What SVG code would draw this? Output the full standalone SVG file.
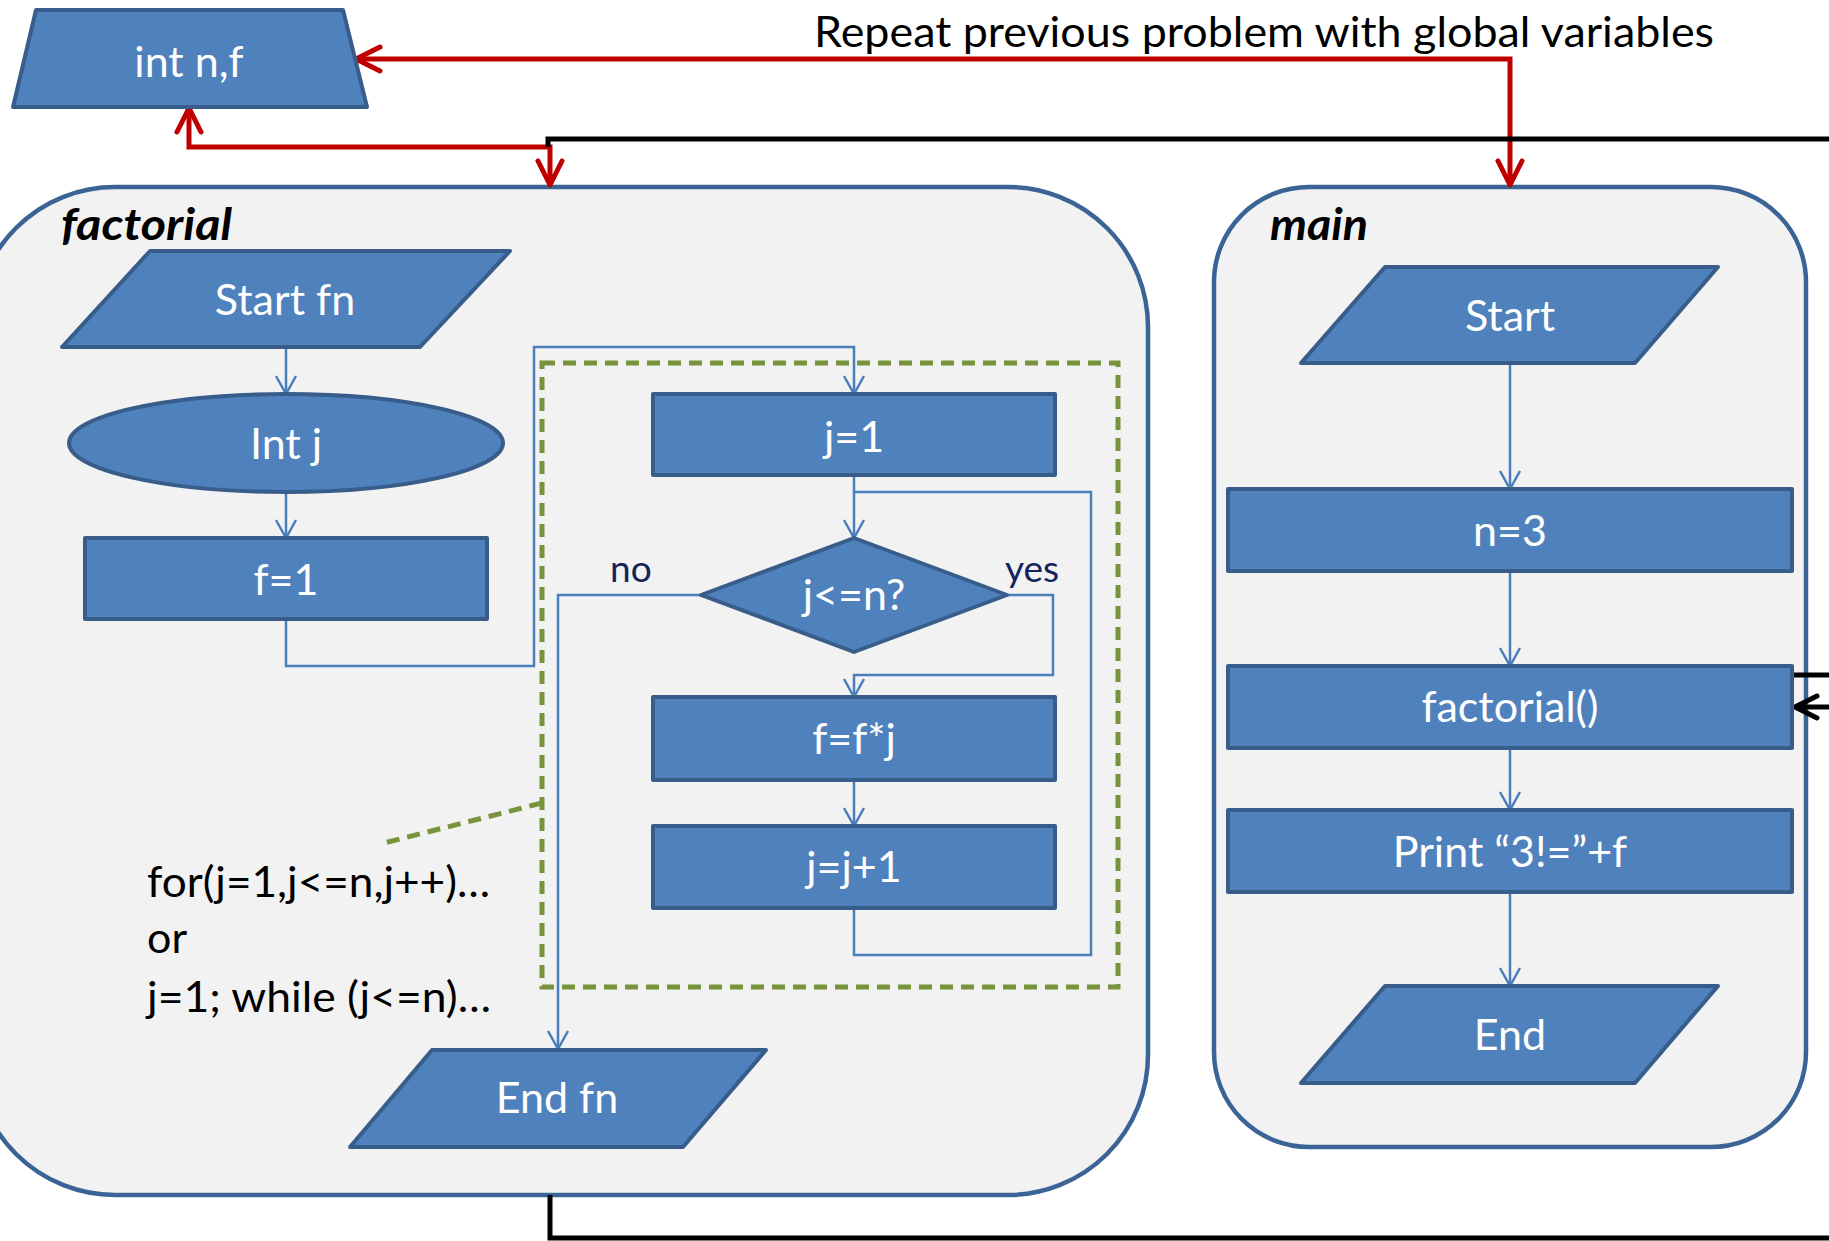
<svg xmlns="http://www.w3.org/2000/svg" width="1829" height="1241" viewBox="0 0 1829 1241">
<defs>
<style>
.cont{fill:#f2f2f2;stroke:#3b6496;stroke-width:4.5}
.node{fill:#4f81bd;stroke:#385d8a;stroke-width:4;stroke-linejoin:round}
.nt{font-family:Lato,"Open Sans","Liberation Sans",sans-serif;font-size:43px;fill:#ffffff;text-anchor:middle}
.lbl{font-family:Lato,"Open Sans","Liberation Sans",sans-serif;font-size:43px;fill:#000000}
.title{font-family:Lato,"Open Sans","Liberation Sans",sans-serif;font-size:43px;font-weight:bold;font-style:italic;fill:#000000}
.yn{font-family:Lato,"Open Sans","Liberation Sans",sans-serif;font-size:37px;fill:#14235a}
.bl{fill:none;stroke:#4a7ebb;stroke-width:2.5;marker-end:url(#ba)}
.bln{fill:none;stroke:#4a7ebb;stroke-width:2.5}
.red{fill:none;stroke:#c00000;stroke-width:5;marker-start:url(#ra);marker-end:url(#ra)}
.blk{fill:none;stroke:#000000;stroke-width:5}
.grn{fill:none;stroke:#77933c;stroke-width:5;stroke-dasharray:13 8}
</style>
<marker id="ba" markerUnits="userSpaceOnUse" orient="auto-start-reverse" refX="0" refY="0" markerWidth="40" markerHeight="40" overflow="visible">
<path d="M -18 -10 L 0 0 L -18 10" fill="none" stroke="#4a7ebb" stroke-width="2.5"/>
</marker>
<marker id="ra" markerUnits="userSpaceOnUse" orient="auto-start-reverse" refX="0" refY="0" markerWidth="60" markerHeight="60" overflow="visible">
<path d="M -24 -12 L 0 0 L -24 12" fill="none" stroke="#c00000" stroke-width="5" stroke-linecap="round" stroke-linejoin="round"/>
</marker>
<marker id="ka" markerUnits="userSpaceOnUse" orient="auto" refX="0" refY="0" markerWidth="60" markerHeight="60" overflow="visible">
<path d="M -22 -11 L 0 0 L -22 11" fill="none" stroke="#000000" stroke-width="5" stroke-linecap="round" stroke-linejoin="round"/>
</marker>
</defs>
<rect width="1829" height="1241" fill="#ffffff"/>

<g id="factorial-container">
<rect class="cont" x="-25" y="187" width="1173" height="1008" rx="140" ry="140"/>
<text class="title" x="61" y="240" textLength="171" lengthAdjust="spacingAndGlyphs">factorial</text>
</g>
<g id="main-container">
<rect class="cont" x="1214" y="187" width="592" height="960" rx="95" ry="95"/>
<text class="title" x="1270" y="240" textLength="98" lengthAdjust="spacingAndGlyphs">main</text>
</g>

<g id="loop-box">
<rect class="grn" x="542" y="363" width="576" height="624"/>
<path class="grn" d="M 542 803 L 384 843"/>
</g>

<g id="connectors">
<path class="bl" d="M 286 347 L 286 394"/>
<path class="bl" d="M 286 492 L 286 538"/>
<path class="bl" d="M 286 619 L 286 666 L 534 666 L 534 347 L 854 347 L 854 394"/>
<path class="bl" d="M 854 475 L 854 538"/>
<path class="bl" d="M 1007 595 L 1053 595 L 1053 675 L 854 675 L 854 697"/>
<path class="bl" d="M 701 595 L 558 595 L 558 1049"/>
<path class="bl" d="M 854 780 L 854 826"/>
<path class="bln" d="M 854 908 L 854 955 L 1091 955 L 1091 492 L 854 492"/>
<path class="bl" d="M 1510 363 L 1510 489"/>
<path class="bl" d="M 1510 571 L 1510 666"/>
<path class="bl" d="M 1510 748 L 1510 810"/>
<path class="bl" d="M 1510 892 L 1510 986"/>
<path class="red" d="M 1510 185 L 1510 59 L 356 59"/>
<path class="red" d="M 189 108 L 189 147 L 550 147 L 550 185"/>
<path class="blk" d="M 1829 139 L 548 139 L 548 147"/>
<path class="blk" d="M 1792 675 L 1829 675"/>
<path class="blk" d="M 1829 707 L 1795 707" marker-end="url(#ka)"/>
<path class="blk" d="M 550 1195 L 550 1238 L 1829 1238"/>
</g>

<g id="int-nf">
<polygon class="node" points="36,10 343,10 367,107 13,107"/>
<text class="nt" x="189" y="77">int n,f</text>
</g>
<g id="start-fn">
<polygon class="node" points="150,251 510,251 420,347 62,347"/>
<text class="nt" x="285" y="315">Start fn</text>
</g>
<g id="int-j">
<ellipse class="node" cx="286" cy="443" rx="217" ry="49"/>
<text class="nt" x="286" y="459">Int j</text>
</g>
<g id="f-1">
<rect class="node" x="85" y="538" width="402" height="81"/>
<text class="nt" x="286" y="595">f=1</text>
</g>
<g id="j-1">
<rect class="node" x="653" y="394" width="402" height="81"/>
<text class="nt" x="854" y="452">j=1</text>
</g>
<g id="cond">
<polygon class="node" points="854,538 1007,595 854,652 701,595"/>
<text class="nt" x="854" y="610">j&lt;=n?</text>
</g>
<g id="f-fj">
<rect class="node" x="653" y="697" width="402" height="83"/>
<text class="nt" x="854" y="754">f=f*j</text>
</g>
<g id="j-j1">
<rect class="node" x="653" y="826" width="402" height="82"/>
<text class="nt" x="854" y="882">j=j+1</text>
</g>
<g id="end-fn">
<polygon class="node" points="432,1050 766,1050 683,1147 350,1147"/>
<text class="nt" x="557" y="1113">End fn</text>
</g>
<g id="start">
<polygon class="node" points="1385,267 1718,267 1635,363 1301,363"/>
<text class="nt" x="1510" y="331">Start</text>
</g>
<g id="n-3">
<rect class="node" x="1228" y="489" width="564" height="82"/>
<text class="nt" x="1510" y="546">n=3</text>
</g>
<g id="factorial-call">
<rect class="node" x="1228" y="666" width="564" height="82"/>
<text class="nt" x="1510" y="722">factorial()</text>
</g>
<g id="print">
<rect class="node" x="1228" y="810" width="564" height="82"/>
<text class="nt" x="1510" y="867">Print “3!=”+f</text>
</g>
<g id="end">
<polygon class="node" points="1385,986 1718,986 1635,1083 1301,1083"/>
<text class="nt" x="1510" y="1050">End</text>
</g>

<g id="labels">
<text class="yn" x="610" y="582">no</text>
<text class="yn" x="1005" y="582">yes</text>
<text class="lbl" x="814" y="47" textLength="900" lengthAdjust="spacingAndGlyphs">Repeat previous problem with global variables</text>
<text class="lbl" x="147" y="897" textLength="343" lengthAdjust="spacingAndGlyphs">for(j=1,j&lt;=n,j++)…</text>
<text class="lbl" x="147" y="953">or</text>
<text class="lbl" x="147" y="1012" textLength="344" lengthAdjust="spacingAndGlyphs">j=1; while (j&lt;=n)…</text>
</g>
</svg>
